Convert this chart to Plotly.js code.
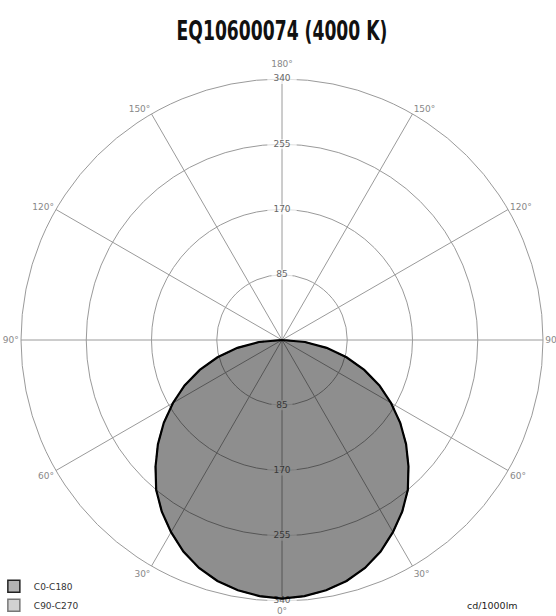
<!DOCTYPE html>
<html>
<head>
<meta charset="utf-8">
<script src="https://cdn.plot.ly/plotly-3.0.1.min.js"></script>
<style>
html,body{margin:0;padding:0;background:#fff;}
#chart{width:556px;height:616px;}
</style>
</head>
<body>
<div id="chart"></div>
<script>
// Gamma angles (deg) and luminous intensity (cd/1000lm)
const gamma = [0,5,10,15,20,25,30,35,40,45,50,55,60,65,70,75,80,85,90];
const c0   = [337,335,331,325,316,304,289,273,255,233,211,188,164,140,114,87,59,30,0];
const c180 = [337,335,331,325,316,304,289,273,255,233,211,188,164,140,114,87,59,30,0];
const c90  = [337,335,331,325,316,304,289,273,255,233,211,188,164,140,114,87,59,30,0];
const c270 = [337,335,331,325,316,304,289,273,255,233,211,188,164,140,114,87,59,30,0];

const radialTicks = [85,170,255,340];
const angleTickVals = [0,30,60,90,120,150,180,210,240,270,300,330];
const angleTickText = ['0°','30°','60°','90','120°','150°','180°','150°','120°','90°','60°','30°'];
const seriesNames = ['C0-C180','C90-C270'];

function curve(a, b){
  const th = [], r = [];
  for(let i = gamma.length-1; i >= 0; i--){ th.push(360 - gamma[i]); r.push(b[i]); }
  for(let i = 0; i < gamma.length; i++){ th.push(gamma[i]); r.push(a[i]); }
  return {th, r};
}
const s1 = curve(c0, c180);
const s2 = curve(c90, c270);

const rMax = radialTicks[radialTicks.length-1];

// radial tick labels on both vertical half-axes (down = 0°, up = 180°)
const lblTheta = [], lblR = [], lblText = [], lblSize = [];
[0,180].forEach(t => radialTicks.forEach(v => {
  lblTheta.push(t); lblR.push(v); lblText.push(String(v));
  lblSize.push(String(v).length*6 + 3);
}));

// vertical angle labels (0° bottom, 180° top) are placed by a text trace so they clear the 340 labels
const vertIdx = angleTickVals.map((v,i)=>i).filter(i => angleTickVals[i] % 180 === 0);
const shownTickText = angleTickText.map((t,i) => vertIdx.includes(i) ? '' : t);

const gridCol = '#9a9a9a';
const data = [
  {type:'scatterpolar', theta:lblTheta, r:lblR, text:lblText, mode:'markers+text',
   marker:{symbol:'line-ew', size:lblSize, color:'#fff', line:{color:'#fff', width:10}},
   textposition:'middle center', textfont:{family:'DejaVu Sans', size:9, color:'#666'},
   showlegend:false, hoverinfo:'skip', cliponaxis:false},
  {type:'scatterpolar', theta:vertIdx.map(i=>angleTickVals[i]), r:vertIdx.map(()=>rMax),
   text:vertIdx.map(i=>angleTickText[i]), mode:'markers+text',
   marker:{size:vertIdx.map(i => angleTickVals[i] === 0 ? 8 : 14), opacity:0},
   textposition:vertIdx.map(i => angleTickVals[i] === 0 ? 'bottom center' : 'top center'),
   textfont:{family:'DejaVu Sans', size:9, color:'#888'},
   showlegend:false, hoverinfo:'skip', cliponaxis:false},
  {type:'scatterpolar', theta:s2.th, r:s2.r, mode:'lines', fill:'toself',
   fillcolor:'rgba(0,0,0,0.2)', line:{color:'#555', width:1.5, dash:'dash'},
   showlegend:false, name:seriesNames[1]},
  {type:'scatterpolar', theta:s1.th, r:s1.r, mode:'lines', fill:'toself',
   fillcolor:'rgba(0,0,0,0.3)', line:{color:'#000', width:2.2},
   showlegend:false, name:seriesNames[0]},
  // legend keys: single points beyond the radial range, clipped away
  {type:'scatterpolar', theta:[0], r:[2*rMax], mode:'markers', name:seriesNames[0], cliponaxis:true,
   marker:{symbol:'square', size:12, color:'#b3b3b3', line:{color:'#222', width:1.5}}},
  {type:'scatterpolar', theta:[0], r:[2*rMax], mode:'markers', name:seriesNames[1], cliponaxis:true,
   marker:{symbol:'square', size:12, color:'#d2d2d2', line:{color:'#777', width:1.5}}}
];

const layout = {
  width:556, height:616,
  margin:{l:21, r:13, t:79, b:15, autoexpand:false},
  paper_bgcolor:'#fff',
  title:{text:'<b>EQ10600074 (4000 K)</b>', x:0.5, xref:'paper', xanchor:'center',
         y:1-31/616, yref:'container', yanchor:'middle',
         font:{family:'DejaVu Sans Condensed, DejaVu Sans, sans-serif', size:26, color:'#111'}},
  polar:{
    bgcolor:'rgba(0,0,0,0)',
    domain:{x:[0,1], y:[0,1]},
    radialaxis:{range:[0,rMax], tickvals:radialTicks, showticklabels:false, ticks:'',
      showline:false, gridcolor:gridCol, gridwidth:1, layer:'below traces'},
    angularaxis:{rotation:-90, direction:'counterclockwise',
      tickmode:'array', tickvals:angleTickVals, ticktext:shownTickText, ticks:'',
      showline:true, linecolor:gridCol, linewidth:1, gridcolor:gridCol, gridwidth:1,
      layer:'below traces',
      tickfont:{family:'DejaVu Sans', size:9, color:'#888'}}
  },
  showlegend:true,
  legend:{x:-0.052, xanchor:'left', y:-0.036, yanchor:'bottom', bgcolor:'rgba(0,0,0,0)',
    font:{family:'DejaVu Sans', size:9, color:'#333'}, tracegroupgap:0},
  annotations:[{text:'cd/1000lm', xref:'paper', yref:'paper', x:(520-21)/522, y:-4/522,
    xanchor:'right', yanchor:'middle', showarrow:false,
    font:{family:'DejaVu Sans', size:9.5, color:'#222'}}]
};

Plotly.newPlot('chart', data, layout, {displayModeBar:false, staticPlot:true}).then(gd => {
  // condense the title horizontally to mimic the narrow display face
  const t = gd.querySelector('.gtitle');
  if(t){
    const bb = t.getBBox();
    const target = 211;
    const sx = Math.min(1, target / bb.width);
    const cx = bb.x + bb.width/2;
    t.setAttribute('transform', `translate(${cx},0) scale(${sx},1) translate(${-cx},0)`);
  }
});
</script>
</body>
</html>
